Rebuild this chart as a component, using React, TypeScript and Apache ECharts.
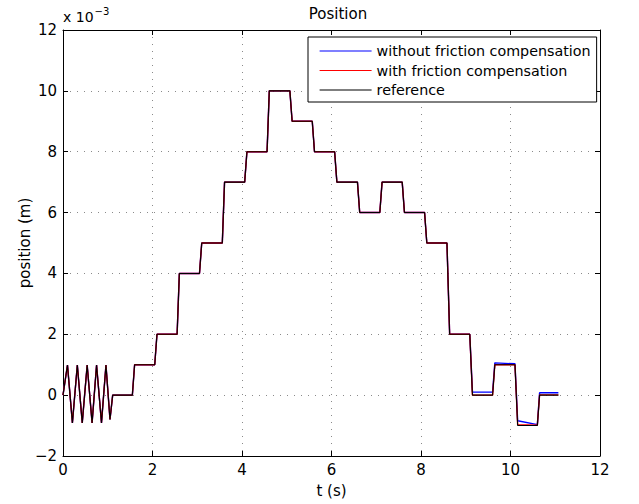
import React, { useEffect, useRef } from "react";
import * as echarts from "echarts";

// time samples (s)
const tSamples = [
  0, 0.10, 0.21, 0.32, 0.43, 0.54, 0.65, 0.75, 0.86, 0.96, 1.05, 1.11,
  1.55, 1.60, 2.05, 2.10, 2.55, 2.60, 3.05, 3.10, 3.56, 3.61, 4.06, 4.11,
  4.56, 4.61, 5.07, 5.12, 5.57, 5.62, 6.07, 6.12, 6.58, 6.63, 7.08, 7.13,
  7.58, 7.63, 8.08, 8.13, 8.58, 8.64, 9.09, 9.15, 9.60, 9.65, 10.10, 10.16,
  10.60, 10.65, 11.07,
];
// positions in units of 1e-3 m
const referenceValues = [
  0, 0.99, -0.91, 0.99, -0.91, 0.99, -0.91, 0.99, -0.91, 0.99, -0.8, 0,
  0, 1, 1, 2, 2, 4, 4, 5, 5, 7, 7, 8,
  8, 10, 10, 9, 9, 8, 8, 7, 7, 6, 6, 7,
  7, 6, 6, 5, 5, 2, 2, 0, 0, 1, 1, -1,
  -1, 0, 0,
];
const withoutCompValues = [
  0, 0.99, -0.91, 0.99, -0.91, 0.99, -0.91, 0.99, -0.91, 0.99, -0.8, 0,
  0, 1, 1, 2, 2, 4, 4, 5, 5, 7, 7, 8,
  8, 10, 10, 9, 9, 8, 8, 7, 7, 6, 6, 7,
  7, 6, 6, 5, 5, 2, 2, 0.1, 0.1, 1.06, 1.03, -0.84,
  -0.97, 0.08, 0.08,
];
const withCompValues = [
  0, 0.99, -0.91, 0.99, -0.91, 0.99, -0.91, 0.99, -0.91, 0.99, -0.8, 0,
  0, 1, 1, 2, 2, 4, 4, 5, 5, 7, 7, 8,
  8, 10, 10, 9, 9, 8, 8, 7, 7, 6, 6, 7,
  7, 6, 6, 5, 5, 2, 2, 0, 0, 1, 1, -0.97,
  -0.99, 0.01, 0.01,
];
const seriesNames = [
  "without friction compensation",
  "with friction compensation",
  "reference",
];

const FONT = "DejaVu Sans, Liberation Sans, Arial, sans-serif";
const FS = 15;

export default function App() {
  const ref = useRef<HTMLDivElement>(null);
  useEffect(() => {
    if (!ref.current) return;
    const chart = echarts.init(ref.current, undefined, { renderer: "svg" });
    const pairs = (ys: number[]) => tSamples.map((t, i) => [t, ys[i]]);
    const gridLine = { show: true, lineStyle: { color: "#8a8a8a", type: [1, 6], width: 1 } };
    const axisLine = { show: true, onZero: false, lineStyle: { color: "#000", width: 1 } };
    const tickIn = { show: true, inside: true, length: 5, lineStyle: { color: "#000" } };
    chart.setOption({
      animation: false,
      backgroundColor: "#fff",
      title: {
        text: "Position",
        left: 333,
        textAlign: "center",
        top: 1,
        textStyle: { fontFamily: FONT, fontSize: FS, fontWeight: "normal", color: "#000" },
      },
      legend: {
        orient: "vertical",
        left: 308,
        top: 37,
        padding: [7, 6, 5, 11],
        itemGap: 5.5,
        itemWidth: 52,
        itemHeight: 14,
        backgroundColor: "#fff",
        borderColor: "#000",
        borderWidth: 1,
        data: seriesNames,
        itemStyle: { opacity: 0 },
        lineStyle: { width: 1.2 },
        textStyle: { fontFamily: FONT, fontSize: 14.3, color: "#000" },
      },
      grid: { left: 63, right: 39, top: 30, bottom: 48 },
      xAxis: [
        {
          type: "value",
          min: 0,
          max: 12,
          interval: 2,
          name: "t (s)",
          nameLocation: "middle",
          nameGap: 27,
          nameMoveOverlap: false,
          nameTextStyle: { fontFamily: FONT, fontSize: FS, color: "#000" },
          axisLine,
          axisTick: tickIn,
          axisLabel: { fontFamily: FONT, fontSize: FS, color: "#000", margin: 6 },
          splitLine: gridLine,
        },
        {
          type: "value",
          position: "top",
          min: 0,
          max: 12,
          interval: 2,
          axisLine,
          axisTick: tickIn,
          axisLabel: { show: false },
          splitLine: { show: false },
        },
      ],
      yAxis: [
        {
          type: "value",
          min: -2,
          max: 12,
          interval: 2,
          name: "position (m)",
          nameLocation: "middle",
          nameGap: 31,
          nameMoveOverlap: false,
          nameTextStyle: { fontFamily: FONT, fontSize: FS, color: "#000" },
          axisLine,
          axisTick: tickIn,
          axisLabel: {
            fontFamily: FONT,
            fontSize: FS,
            color: "#000",
            margin: 6,
            formatter: (v: number) => String(v).replace("-", "\u2212"),
          },
          splitLine: gridLine,
        },
        {
          type: "value",
          position: "right",
          min: -2,
          max: 12,
          interval: 2,
          axisLine,
          axisTick: tickIn,
          axisLabel: { show: false },
          splitLine: { show: false },
        },
      ],
      graphic: [
        {
          type: "text",
          left: 63,
          top: 6,
          style: {
            text: "{b|x 10}{s|\u22123}",
            rich: {
              b: { fontFamily: FONT, fontSize: 14, fill: "#000", padding: [6, 0, 0, 0] },
              s: { fontFamily: FONT, fontSize: 10, fill: "#000", padding: [0, 0, 6, 1] },
            },
          },
        },
      ],
      series: [
        {
          name: seriesNames[0],
          type: "line",
          data: pairs(withoutCompValues),
          symbol: "none",
          lineStyle: { color: "#0000ff", width: 1.4 },
          itemStyle: { color: "#0000ff" },
        },
        {
          name: seriesNames[1],
          type: "line",
          data: pairs(withCompValues),
          symbol: "none",
          lineStyle: { color: "#ff0000", width: 1.4 },
          itemStyle: { color: "#ff0000" },
        },
        {
          name: seriesNames[2],
          type: "line",
          data: pairs(referenceValues),
          symbol: "none",
          lineStyle: { color: "#000000", width: 1.1 },
          itemStyle: { color: "#000000" },
        },
      ],
    });
    return () => chart.dispose();
  }, []);
  return <div ref={ref} style={{ width: 639, height: 504, position: "absolute", left: 0, top: 0 }} />;
}
